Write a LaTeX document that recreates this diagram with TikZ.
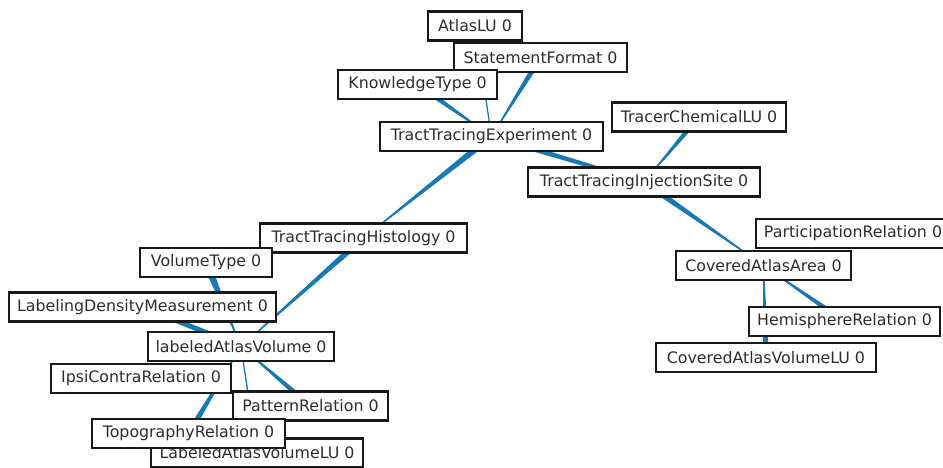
\documentclass[tikz,border=0pt]{standalone}
\usepackage{fontspec}
\setmainfont{DejaVu Sans}
\usetikzlibrary{calc,backgrounds}
\definecolor{edgecol}{RGB}{24,122,178}
\definecolor{txtcol}{RGB}{45,45,45}
\newcommand{\taper}[4]{\fill[edgecol] ($(#1)!#3!90:(#2)$) -- ($(#2)!#4!-90:(#1)$) -- ($(#2)!#4!90:(#1)$) -- ($(#1)!#3!-90:(#2)$) -- cycle;}
\begin{document}
\begin{tikzpicture}[x=1pt,y=-1pt,
  box/.style={draw=black!90, line width=2.6pt, fill=white, inner sep=0pt,
    minimum height=29pt, text=txtcol, font=\fontsize{15.8}{18}\selectfont}]
\useasboundingbox (0,0) rectangle (943,468);
\clip (0,0) rectangle (943,468);
\node[box, minimum width=94pt]  (atlas) at (475,26)    {AtlasLU 0};
\node[box, minimum width=173pt] (sf)    at (540.5,57.5) {StatementFormat 0};
\node[box, minimum width=159pt] (kt)    at (417.5,84.5) {KnowledgeType 0};
\node[box, minimum width=223pt] (tte)   at (491.5,136.5) {TractTracingExperiment 0};
\node[box, minimum width=174pt] (tclu)  at (699,117)   {TracerChemicalLU 0};
\node[box, minimum width=232pt] (ttis)  at (644,182)   {TractTracingInjectionSite 0};
\node[box, minimum width=207pt] (tth)   at (363.5,238) {TractTracingHistology 0};
\node[box, minimum width=132pt] (vt)    at (206,262.5) {VolumeType 0};
\node[box, minimum width=267pt] (ldm)   at (142.5,307) {LabelingDensityMeasurement 0};
\node[box, minimum width=186pt] (lav)   at (241,346.5) {labeledAtlasVolume 0};
\node[box, minimum width=180pt] (ic)    at (141,378.5) {IpsiContraRelation 0};
\node[box, minimum width=212pt] (lavlu) at (257,453)   {LabeledAtlasVolumeLU 0};
\node[box, minimum width=155pt] (pr)    at (310.5,406) {PatternRelation 0};
\node[box, minimum width=193pt] (tr)    at (188.5,433.5) {TopographyRelation 0};
\node[box, minimum width=194pt] (part)  at (853,233.5) {ParticipationRelation 0};
\node[box, minimum width=175pt] (caa)   at (763.5,265.5) {CoveredAtlasArea 0};
\node[box, minimum width=191pt] (hr)    at (844.5,321.5) {HemisphereRelation 0};
\node[box, minimum width=220pt] (cavlu) at (766,357.5) {CoveredAtlasVolumeLU 0};
\begin{scope}[on background layer]
\taper{atlas}{tte}{0.8pt}{0.6pt}
\taper{sf}{tte}{3pt}{0.3pt}
\taper{kt}{tte}{3pt}{0.3pt}
\taper{tte}{ttis}{2.8pt}{1.5pt}
\taper{tte}{tth}{3.5pt}{0.3pt}
\taper{tclu}{ttis}{2.8pt}{0.3pt}
\taper{ttis}{caa}{3.2pt}{0.3pt}
\taper{caa}{hr}{0.4pt}{2.8pt}
\taper{caa}{cavlu}{0.3pt}{3pt}
\taper{tth}{lav}{3.2pt}{0.3pt}
\taper{vt}{lav}{4pt}{0.1pt}
\taper{ldm}{lav}{2.5pt}{2.5pt}
\taper{lav}{pr}{0.4pt}{3pt}
\taper{lav}{lavlu}{0.6pt}{0.8pt}
\taper{lav}{tr}{0.5pt}{3pt}
\end{scope}
\end{tikzpicture}
\end{document}
